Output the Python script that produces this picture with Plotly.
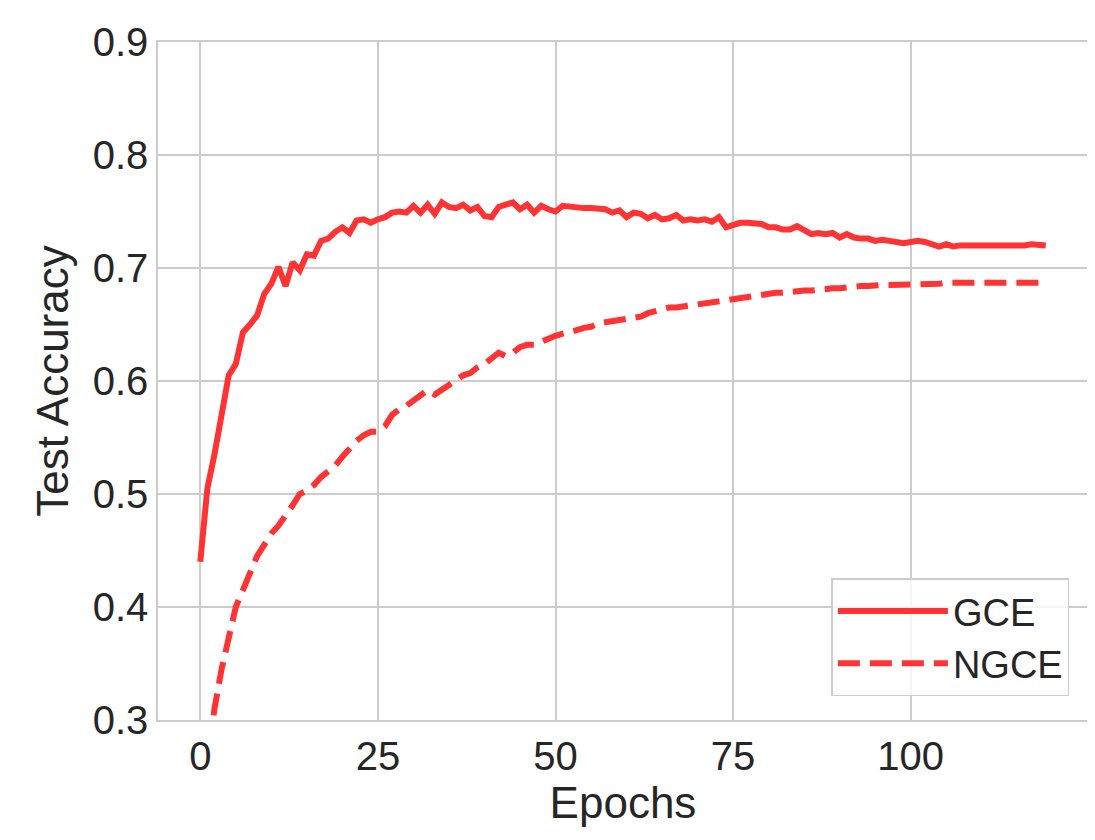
import plotly.graph_objects as go

epochs = list(range(120))
gce = [0.44, 0.505, 0.535, 0.57, 0.605, 0.615, 0.643, 0.65, 0.658, 0.677,
       0.686, 0.701, 0.684, 0.705, 0.698, 0.712, 0.711, 0.724, 0.726, 0.732,
       0.736, 0.731, 0.742, 0.743, 0.740, 0.743, 0.745, 0.749, 0.750, 0.749,
       0.755, 0.749, 0.756, 0.748, 0.758, 0.754, 0.753, 0.756, 0.751, 0.754,
       0.746, 0.745, 0.754, 0.756, 0.758, 0.752, 0.756, 0.749, 0.755, 0.752,
       0.750, 0.755, 0.754, 0.754, 0.753, 0.753, 0.752, 0.752, 0.749, 0.751,
       0.745, 0.749, 0.748, 0.744, 0.747, 0.743, 0.744, 0.747, 0.742, 0.743,
       0.742, 0.743, 0.741, 0.745, 0.736, 0.738, 0.740, 0.740, 0.740, 0.739,
       0.736, 0.736, 0.734, 0.734, 0.737, 0.733, 0.730, 0.731, 0.730, 0.731,
       0.727, 0.730, 0.727, 0.726, 0.726, 0.724, 0.725, 0.724, 0.723, 0.722,
       0.723, 0.724, 0.723, 0.721, 0.719, 0.721, 0.719, 0.720, 0.720, 0.719,
       0.720, 0.719, 0.720, 0.720, 0.719, 0.720, 0.720, 0.721, 0.720, 0.720]
ngce = [0.22, 0.27, 0.31, 0.345, 0.375, 0.40, 0.415, 0.43, 0.445, 0.455,
        0.465, 0.472, 0.48, 0.49, 0.50, 0.503, 0.508, 0.515, 0.52, 0.525,
        0.533, 0.54, 0.547, 0.552, 0.555, 0.555, 0.56, 0.57, 0.575, 0.578,
        0.583, 0.587, 0.592, 0.588, 0.592, 0.597, 0.60, 0.605, 0.607, 0.612,
        0.615, 0.62, 0.625, 0.622, 0.625, 0.63, 0.632, 0.632, 0.635, 0.637,
        0.64, 0.642, 0.643, 0.645, 0.647, 0.648, 0.651, 0.652, 0.653, 0.655,
        0.655, 0.656, 0.657, 0.66, 0.662, 0.664, 0.665, 0.665, 0.666, 0.667,
        0.668, 0.669, 0.67, 0.671, 0.671, 0.673, 0.674, 0.675, 0.676, 0.676,
        0.677, 0.678, 0.678, 0.679, 0.68, 0.68, 0.68, 0.681, 0.681, 0.682,
        0.682, 0.683, 0.683, 0.684, 0.684, 0.685, 0.685, 0.685, 0.685, 0.686,
        0.686, 0.686, 0.686, 0.686, 0.686, 0.687, 0.687, 0.687, 0.687, 0.687,
        0.687, 0.687, 0.687, 0.687, 0.687, 0.687, 0.687, 0.687, 0.687, 0.687]

red = "#ff3333"
fig = go.Figure()
fig.add_trace(go.Scatter(x=epochs, y=gce, mode="lines", name="GCE",
                         line=dict(color=red, width=6)))
fig.add_trace(go.Scatter(x=epochs, y=ngce, mode="lines", name="NGCE",
                         line=dict(color=red, width=6, dash="22px,10px")))

ax = dict(gridcolor="#cccccc", gridwidth=1.5, showline=True, linecolor="#cccccc",
          linewidth=1.5, mirror=True, zeroline=False, ticks="",
          tickfont=dict(size=40, color="#262626"))
fig.update_layout(
    width=1095, height=840,
    paper_bgcolor="white", plot_bgcolor="white",
    font=dict(family="Liberation Sans, Arial, sans-serif", color="#262626"),
    margin=dict(l=150, r=15, t=32, b=128),
    xaxis=dict(ax, range=[-5.95, 124.95], tickvals=[0, 25, 50, 75, 100],
               title=dict(text="Epochs", font=dict(size=44), standoff=8)),
    yaxis=dict(ax, range=[0.3, 0.9], dtick=0.1, tickformat=".1f",
               title=dict(text="Test Accuracy", font=dict(size=44), standoff=10)),
    legend=dict(x=0.98, y=0.035, xanchor="right", yanchor="bottom",
                bgcolor="rgba(255,255,255,0.8)", bordercolor="#cccccc", borderwidth=1.5,
                font=dict(size=38, color="#262626"), itemwidth=110, tracegroupgap=14),
    showlegend=True,
)
fig.write_html("out.html")
